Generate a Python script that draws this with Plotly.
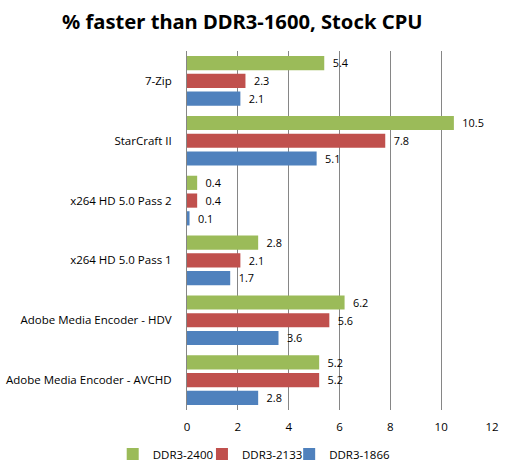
import plotly.graph_objects as go

categories = ["7-Zip", "StarCraft II", "x264 HD 5.0 Pass 2", "x264 HD 5.0 Pass 1",
              "Adobe Media Encoder - HDV", "Adobe Media Encoder - AVCHD"]
ddr3_2400 = [5.4, 10.5, 0.4, 2.8, 6.2, 5.2]
ddr3_2133 = [2.3, 7.8, 0.4, 2.1, 5.6, 5.2]
ddr3_1866 = [2.1, 5.1, 0.1, 1.7, 3.6, 2.8]
series_names = ["DDR3-2400", "DDR3-2133", "DDR3-1866"]
colors = ["#9BBB59", "#C0504D", "#4F81BD"]
x_ticks = [0, 2, 4, 6, 8, 10, 12]

FONT = "Open Sans"
FS = 11.5
legend_ids = ["legend", "legend2", "legend3"]
legend_x = [0.221, 0.396, 0.567]

fig = go.Figure()
for name, vals, c, lg in zip(series_names, [ddr3_2400, ddr3_2133, ddr3_1866], colors, legend_ids):
    fig.add_trace(go.Bar(
        y=categories, x=vals, name=name, orientation="h",
        marker=dict(color=c, line=dict(width=0)),
        text=[f"\u2002{v:.1f}" for v in vals], textposition="outside",
        textfont=dict(family=FONT, size=FS, color="#000000"),
        cliponaxis=False, legend=lg,
    ))

legend_common = dict(orientation="h", xref="container", yref="container",
                     xanchor="left", y=0.038, yanchor="middle",
                     font=dict(family=FONT, size=FS, color="#000000"),
                     itemwidth=30, bgcolor="rgba(0,0,0,0)")

fig.update_layout(
    width=510, height=472,
    paper_bgcolor="white", plot_bgcolor="white",
    margin=dict(l=187, r=18, t=51, b=62, autoexpand=False),
    title=dict(text="<b>% faster than DDR3-1600, Stock CPU</b>",
               font=dict(family="Noto Sans", size=20.2, color="#000000"),
               x=0.475, xanchor="center", y=0.953, yanchor="middle",
               xref="container", yref="container"),
    barmode="group", bargap=0.11, bargroupgap=0.2,
    font=dict(family=FONT, size=FS, color="#000000"),
    showlegend=True,
    legend=dict(x=legend_x[0], **legend_common),
    legend2=dict(x=legend_x[1], **legend_common),
    legend3=dict(x=legend_x[2], **legend_common),
    xaxis=dict(range=[0, 12], tickvals=x_ticks, showgrid=True, gridcolor="#868686",
               gridwidth=1, zeroline=False, showline=False, ticks="",
               tickfont=dict(family=FONT, size=FS), ticklabelstandoff=8,
               automargin=False),
    yaxis=dict(autorange="reversed", showline=True, linecolor="#868686", linewidth=1,
               ticks="", showgrid=False, tickfont=dict(family=FONT, size=FS),
               ticklabelstandoff=12, automargin=False),
)

fig.write_html("out.html", config={"displayModeBar": False},
               post_script="document.body.style.margin='0';document.body.style.overflow='hidden';")
